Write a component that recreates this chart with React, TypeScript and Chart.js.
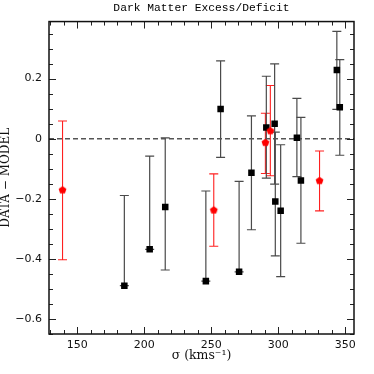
import React, { useEffect, useRef } from "react";
import { Chart, registerables } from "chart.js";

Chart.register(...registerables);

const TITLE = "Dark Matter Excess/Deficit";
const X_TITLE = "σ (kms⁻¹)";
const Y_TITLE = "DATA − MODEL";

const xRange = [129, 356.5];
const yRange = [-0.65, 0.39];
const xMajorTicks = [150, 200, 250, 300, 350];
const xMinorStep = 10;
const yMajorTicks = [-0.6, -0.4, -0.2, 0, 0.2];
const yTickLabels = ["−0.6", "−0.4", "−0.2", "0", "0.2"];
const yMinorStep = 0.05;

// Red pentagons
const redSigma = [139.1, 251.9, 290.4, 294.1, 330.8];
const redValue = [-0.171, -0.238, -0.013, 0.026, -0.14];
const redUpper = [0.059, -0.117, 0.085, 0.177, -0.041];
const redLower = [-0.403, -0.358, -0.116, -0.123, -0.24];

// Black squares
const blackSigma = [185.2, 204.1, 215.7, 246.0, 257.0, 270.8, 280.0, 291.1, 297.3, 297.8, 301.8, 313.9, 316.9, 343.7, 345.9];
const blackValue = [-0.489, -0.368, -0.227, -0.474, 0.099, -0.443, -0.113, 0.037, 0.05, -0.209, -0.24, 0.003, -0.139, 0.229, 0.105];
const blackUpper = [-0.189, -0.058, 0.003, -0.174, 0.259, -0.142, 0.076, 0.208, 0.249, 0.022, -0.02, 0.134, 0.071, 0.357, 0.263];
const blackLower = [-0.489, -0.368, -0.437, -0.474, -0.062, -0.443, -0.303, -0.131, -0.151, -0.39, -0.459, -0.126, -0.348, 0.098, -0.055];

const zeroLevel = 0;

function makePentagon(color: string, r: number) {
  const size = Math.ceil(r * 2 + 2);
  const c = document.createElement("canvas");
  c.width = size;
  c.height = size;
  const ctx = c.getContext("2d")!;
  const cx = size / 2;
  const cy = size / 2;
  ctx.beginPath();
  for (let i = 0; i < 5; i++) {
    const a = -Math.PI / 2 + (i * 2 * Math.PI) / 5;
    const px = cx + r * Math.cos(a);
    const py = cy + r * Math.sin(a);
    if (i === 0) ctx.moveTo(px, py);
    else ctx.lineTo(px, py);
  }
  ctx.closePath();
  ctx.fillStyle = color;
  ctx.fill();
  return c;
}

const errorBarPlugin = {
  id: "errorBars",
  beforeDatasetsDraw(chart: any) {
    const ctx = chart.ctx;
    const xs = chart.scales.x;
    const ys = chart.scales.y;
    ctx.save();
    chart.data.datasets.forEach((ds: any) => {
      if (!ds.errUpper) return;
      ctx.strokeStyle = ds.errColor;
      ctx.lineWidth = ds.errWidth;
      ds.data.forEach((p: any, i: number) => {
        const x = xs.getPixelForValue(p.x);
        const yHi = ys.getPixelForValue(ds.errUpper[i]);
        const yLo = ys.getPixelForValue(ds.errLower[i]);
        const cap = 4.5;
        ctx.beginPath();
        ctx.moveTo(x, yHi);
        ctx.lineTo(x, yLo);
        ctx.moveTo(x - cap, yHi);
        ctx.lineTo(x + cap, yHi);
        ctx.moveTo(x - cap, yLo);
        ctx.lineTo(x + cap, yLo);
        ctx.stroke();
      });
    });
    ctx.restore();
  },
};

const framePlugin = {
  id: "frameTicks",
  afterDraw(chart: any) {
    const ctx = chart.ctx;
    const { left, right, top, bottom } = chart.chartArea;
    const xs = chart.scales.x;
    const ys = chart.scales.y;
    ctx.save();
    ctx.strokeStyle = "#222";
    ctx.lineWidth = 1;
    ctx.beginPath();
    const majorLen = 7;
    const minorLen = 4;
    const kx0 = Math.ceil(xRange[0] / xMinorStep - 1e-9);
    const kx1 = Math.floor(xRange[1] / xMinorStep + 1e-9);
    for (let k = kx0; k <= kx1; k++) {
      const v = k * xMinorStep;
      const major = Math.abs(v / 50 - Math.round(v / 50)) < 1e-6;
      const len = major ? majorLen : minorLen;
      const px = Math.round(xs.getPixelForValue(v)) + 0.5;
      ctx.moveTo(px, bottom);
      ctx.lineTo(px, bottom - len);
      ctx.moveTo(px, top);
      ctx.lineTo(px, top + len);
    }
    const ky0 = Math.ceil(yRange[0] / yMinorStep - 1e-9);
    const ky1 = Math.floor(yRange[1] / yMinorStep + 1e-9);
    for (let k = ky0; k <= ky1; k++) {
      const v = k * yMinorStep;
      const major = Math.abs(v / 0.2 - Math.round(v / 0.2)) < 1e-6;
      const len = major ? majorLen : minorLen;
      const py = Math.round(ys.getPixelForValue(v)) + 0.5;
      ctx.moveTo(left, py);
      ctx.lineTo(left + len, py);
      ctx.moveTo(right, py);
      ctx.lineTo(right - len, py);
    }
    ctx.stroke();
    ctx.lineWidth = 1.5;
    ctx.strokeStyle = "#111";
    ctx.strokeRect(left, top, right - left, bottom - top);
    ctx.restore();
  },
};

export default function App() {
  const canvasRef = useRef<HTMLCanvasElement | null>(null);

  useEffect(() => {
    if (!canvasRef.current) return;
    const pent = makePentagon("#ff0000", 4.1);
    const tickFont = { family: "'DejaVu Sans', sans-serif", size: 11 };
    const chart = new Chart(canvasRef.current, {
      type: "scatter",
      data: {
        datasets: [
          {
            label: "red",
            data: redSigma.map((x, i) => ({ x, y: redValue[i] })),
            pointStyle: pent as any,
            pointRadius: 4,
            backgroundColor: "#ff0000",
            borderWidth: 0,
            errUpper: redUpper,
            errLower: redLower,
            errColor: "#ff2020",
            errWidth: 1.1,
          } as any,
          {
            label: "black",
            data: blackSigma.map((x, i) => ({ x, y: blackValue[i] })),
            pointStyle: "rect",
            pointRadius: 4.6,
            backgroundColor: "#000",
            borderWidth: 0,
            errUpper: blackUpper,
            errLower: blackLower,
            errColor: "#4a4a4a",
            errWidth: 1.2,
          } as any,
          {
            label: "zero",
            data: [
              { x: xRange[0], y: zeroLevel },
              { x: xRange[1], y: zeroLevel },
            ],
            showLine: true,
            borderColor: "#555",
            borderWidth: 1.5,
            borderDash: [5, 3],
            pointRadius: 0,
          } as any,
        ],
      },
      options: {
        animation: false,
        responsive: false,
        devicePixelRatio: 1,
        layout: { padding: { left: 0, right: 20, top: 0, bottom: 0 } },
        plugins: {
          legend: { display: false },
          tooltip: { enabled: false },
          title: {
            display: true,
            text: TITLE,
            fullSize: false,
            color: "#000",
            font: { family: "'Liberation Mono', monospace", size: 11.3, weight: "normal", lineHeight: 1.2 },
            padding: { top: 1, bottom: 7 },
          },
        },
        scales: {
          x: {
            type: "linear",
            min: xRange[0],
            max: xRange[1],
            grid: { display: false, drawTicks: false },
            border: { display: false },
            afterBuildTicks: (s: any) => {
              s.ticks = xMajorTicks.map((v) => ({ value: v }));
            },
            afterFit: (s: any) => {
              s.height = 40;
            },
            ticks: {
              color: "#111",
              font: tickFont,
              padding: 5,
              maxRotation: 0,
              autoSkip: false,
              callback: (v: any) => String(v),
            },
            title: {
              display: true,
              text: X_TITLE,
              color: "#111",
              font: { family: "'DejaVu Serif', serif", size: 12.5, lineHeight: 1.2 },
              padding: { top: 0, bottom: 11 },
            },
          },
          y: {
            type: "linear",
            min: yRange[0],
            max: yRange[1],
            grid: { display: false, drawTicks: false },
            border: { display: false },
            afterBuildTicks: (s: any) => {
              s.ticks = yMajorTicks.map((v) => ({ value: v }));
            },
            afterFit: (s: any) => {
              s.width = 49;
            },
            ticks: {
              color: "#111",
              font: tickFont,
              padding: 7,
              autoSkip: false,
              callback: (v: any) => {
                const idx = yMajorTicks.findIndex((t) => Math.abs(t - v) < 1e-9);
                return idx >= 0 ? yTickLabels[idx] : "";
              },
            },
            title: {
              display: true,
              text: Y_TITLE,
              color: "#111",
              font: { family: "'DejaVu Serif', serif", size: 12, lineHeight: 1 },
              padding: { top: 0, bottom: 0 },
            },
          },
        },
      } as any,
      plugins: [errorBarPlugin, framePlugin],
    });
    return () => chart.destroy();
  }, []);

  return (
    <div style={{ position: "fixed", left: 0, top: 0, width: 374, height: 374, background: "#fff" }}>
      <canvas ref={canvasRef} width={374} height={374} style={{ display: "block" }} />
    </div>
  );
}
